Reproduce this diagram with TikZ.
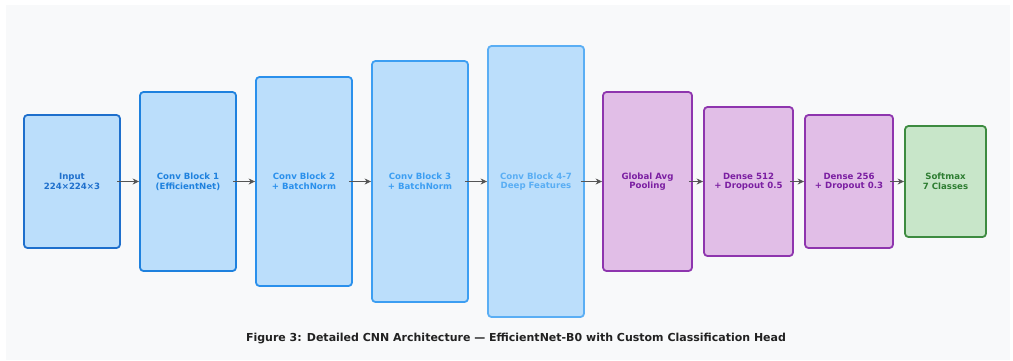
\documentclass[tikz,border=0pt]{standalone}
\usepackage{fontspec}
\setmainfont{DejaVu Sans}
\usetikzlibrary{arrows.meta}
\definecolor{panel}{HTML}{F8F9FA}
\definecolor{bfill}{HTML}{BBDEFB}
\definecolor{pfill}{HTML}{E1BEE7}
\definecolor{gfill}{HTML}{C8E6C9}
\definecolor{bA}{HTML}{1E6FCC}
\definecolor{bB}{HTML}{1E81DE}
\definecolor{bC}{HTML}{2A90EC}
\definecolor{bD}{HTML}{3C9EF2}
\definecolor{bE}{HTML}{5AAEF4}
\definecolor{pB}{HTML}{8E35AE}
\definecolor{pT}{HTML}{7B1FA2}
\definecolor{gB}{HTML}{3D8B40}
\definecolor{gT}{HTML}{2E7D32}
\definecolor{arrc}{HTML}{555555}
\definecolor{capc}{HTML}{222222}
\tikzset{
  layer/.style={draw, line width=1.8pt, rounded corners=3.5pt, align=center,
    font=\bfseries\fontsize{8.6}{9.6}\selectfont, inner sep=0pt},
  arr/.style={draw=arrc, line width=1.6pt, -{Stealth[length=6.5pt,width=6pt]}}
}
\begin{document}
\begin{tikzpicture}[x=1pt,y=-1pt]
\useasboundingbox (0,0) rectangle (1013,360);
\fill[white] (0,0) rectangle (1013,360);
\fill[panel] (6,5) rectangle (1010,360);
\node[layer, draw=bA, fill=bfill, text=bA, minimum width=96pt, minimum height=133pt] (n1) at (72,181.5) {Input\\224×224×3};
\node[layer, draw=bB, fill=bfill, text=bB, minimum width=96pt, minimum height=179pt] (n2) at (188,181.5) {Conv Block 1\\(EfficientNet)};
\node[layer, draw=bC, fill=bfill, text=bC, minimum width=96pt, minimum height=209pt] (n3) at (304,181.5) {Conv Block 2\\+ BatchNorm};
\node[layer, draw=bD, fill=bfill, text=bD, minimum width=96pt, minimum height=241pt] (n4) at (420,181.5) {Conv Block 3\\+ BatchNorm};
\node[layer, draw=bE, fill=bfill, text=bE, minimum width=96pt, minimum height=271pt] (n5) at (536,181.5) {Conv Block 4-7\\Deep Features};
\node[layer, draw=pB, fill=pfill, text=pT, minimum width=89pt, minimum height=179pt] (n6) at (647.5,181.5) {Global Avg\\Pooling};
\node[layer, draw=pB, fill=pfill, text=pT, minimum width=89pt, minimum height=149pt] (n7) at (748.5,181.5) {Dense 512\\+ Dropout 0.5};
\node[layer, draw=pB, fill=pfill, text=pT, minimum width=88pt, minimum height=133pt] (n8) at (849,181.5) {Dense 256\\+ Dropout 0.3};
\node[layer, draw=gB, fill=gfill, text=gT, minimum width=81pt, minimum height=111pt] (n9) at (945.5,181.5) {Softmax\\7 Classes};
\foreach \a/\b in {n1/n2,n2/n3,n3/n4,n4/n5,n5/n6,n6/n7,n7/n8,n8/n9}
  \draw[arr] ([xshift=-4pt]\a.east) -- (\b.west);
\node[font=\bfseries\fontsize{11}{13}\selectfont, text=capc] (cap) at (516,338.5) {Figure 3: Detailed CNN Architecture — EfficientNet-B0 with Custom Classification Head};
\end{tikzpicture}
\end{document}
